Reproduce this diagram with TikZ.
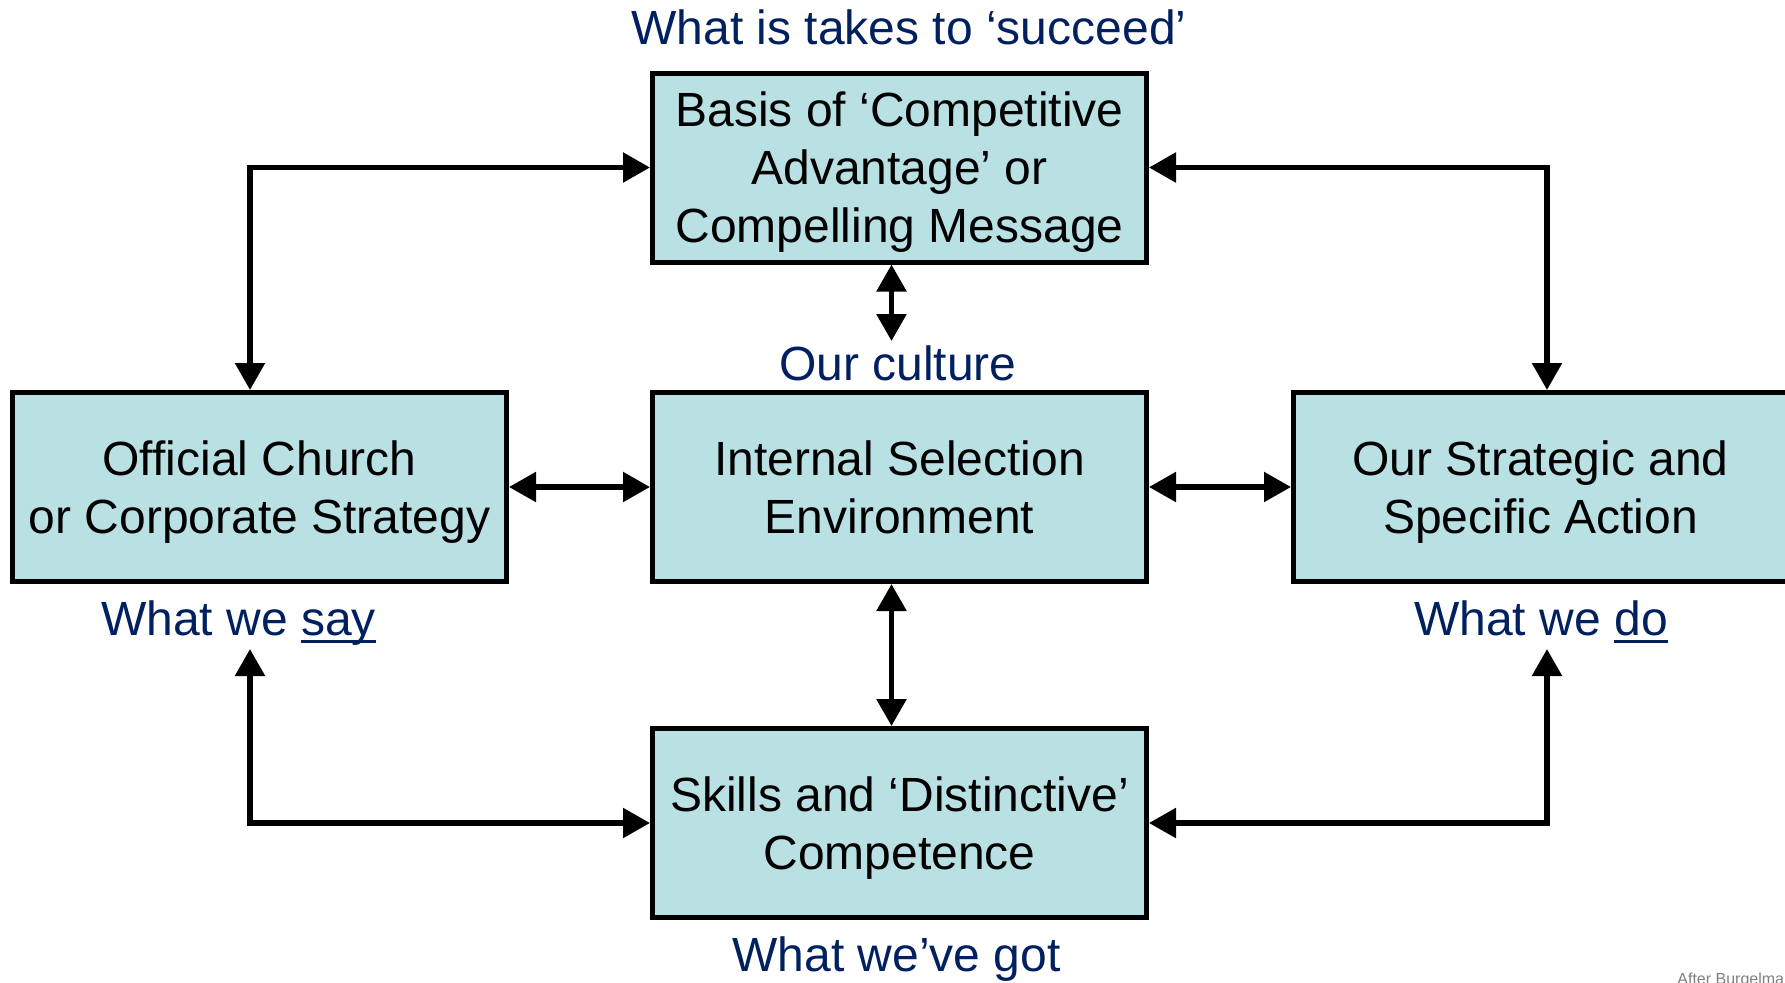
\documentclass[tikz,border=0pt]{standalone}
\usepackage{fontspec}
\setmainfont{Liberation Sans}
\usetikzlibrary{arrows.meta}
\definecolor{boxfill}{RGB}{185,224,227}
\definecolor{navy}{RGB}{0,32,96}
\definecolor{notegray}{RGB}{128,128,128}
% heavier underline, as used for emphasised words
\newsavebox{\ulwordbox}
\newcommand{\ulword}[1]{\sbox{\ulwordbox}{#1}\leavevmode
  \rlap{\vrule height -2.4pt depth 4pt width \wd\ulwordbox}\usebox{\ulwordbox}}
\tikzset{
  box/.style={draw=black, line width=2.5pt, fill=boxfill,
    minimum width=247pt, minimum height=94.5pt, inner sep=0pt,
    text depth=-2pt,
    align=center, font=\fontsize{24}{29}\selectfont},
  lbl/.style={text=navy, font=\fontsize{24}{29}\selectfont,
    inner sep=0pt, anchor=base},
  link/.style={line width=2.75pt,
    {Triangle[length=13.5pt,width=14.5pt]}-{Triangle[length=13.5pt,width=14.5pt]}}
}
\begin{document}
\begin{tikzpicture}[x=0.5pt,y=-0.5pt]
\useasboundingbox[fill=white] (0,0) rectangle (1785,982);

% boxes
\node[box] (top)   at (899.5,167.5) {Basis of ‘Competitive\\Advantage’ or\\Compelling Message};
\node[box] (left)  at (259.5,487)   {Official Church\\or Corporate Strategy};
\node[box] (mid)   at (899.5,487)   {Internal Selection\\Environment};
\node[box] (right) at (1540.5,487)  {Our Strategic and\\Specific Action};
\node[box] (bot)   at (899.5,823)   {Skills and ‘Distinctive’\\Competence};

% captions
\node[lbl] (succeed) at (909,44)    {What is takes to ‘succeed’};
\node[lbl] (culture) at (898,380)   {Our culture};
\node[lbl] (say)     at (238.5,635) {What we \ulword{say}};
\node[lbl] (do)      at (1541,635)  {What we \ulword{do}};
\node[lbl] (got)     at (896.5,971) {What we’ve got};
\node[anchor=base west, text=notegray, font=\fontsize{8}{9}\selectfont, inner sep=0pt]
  (credit) at (1677,984) {After Burgelman};

% connector guide points
\coordinate (lx) at (250,0);
\coordinate (rx) at (1547,0);
\coordinate (cx) at (891.5,0);
\coordinate (cultip) at (891.5,341);
\coordinate (saytip) at (250,649);
\coordinate (dotip) at (1547,649);

% connectors
\draw[link] (top.west) -| (lx |- left.north);
\draw[link] (top.east) -| (rx |- right.north);
\draw[link] (cx |- top.south) -- (cultip);
\draw[link] (left.east) -- (mid.west);
\draw[link] (mid.east) -- (right.west);
\draw[link] (cx |- mid.south) -- (cx |- bot.north);
\draw[link] (bot.west) -| (saytip);
\draw[link] (bot.east) -| (dotip);
\end{tikzpicture}
\end{document}
